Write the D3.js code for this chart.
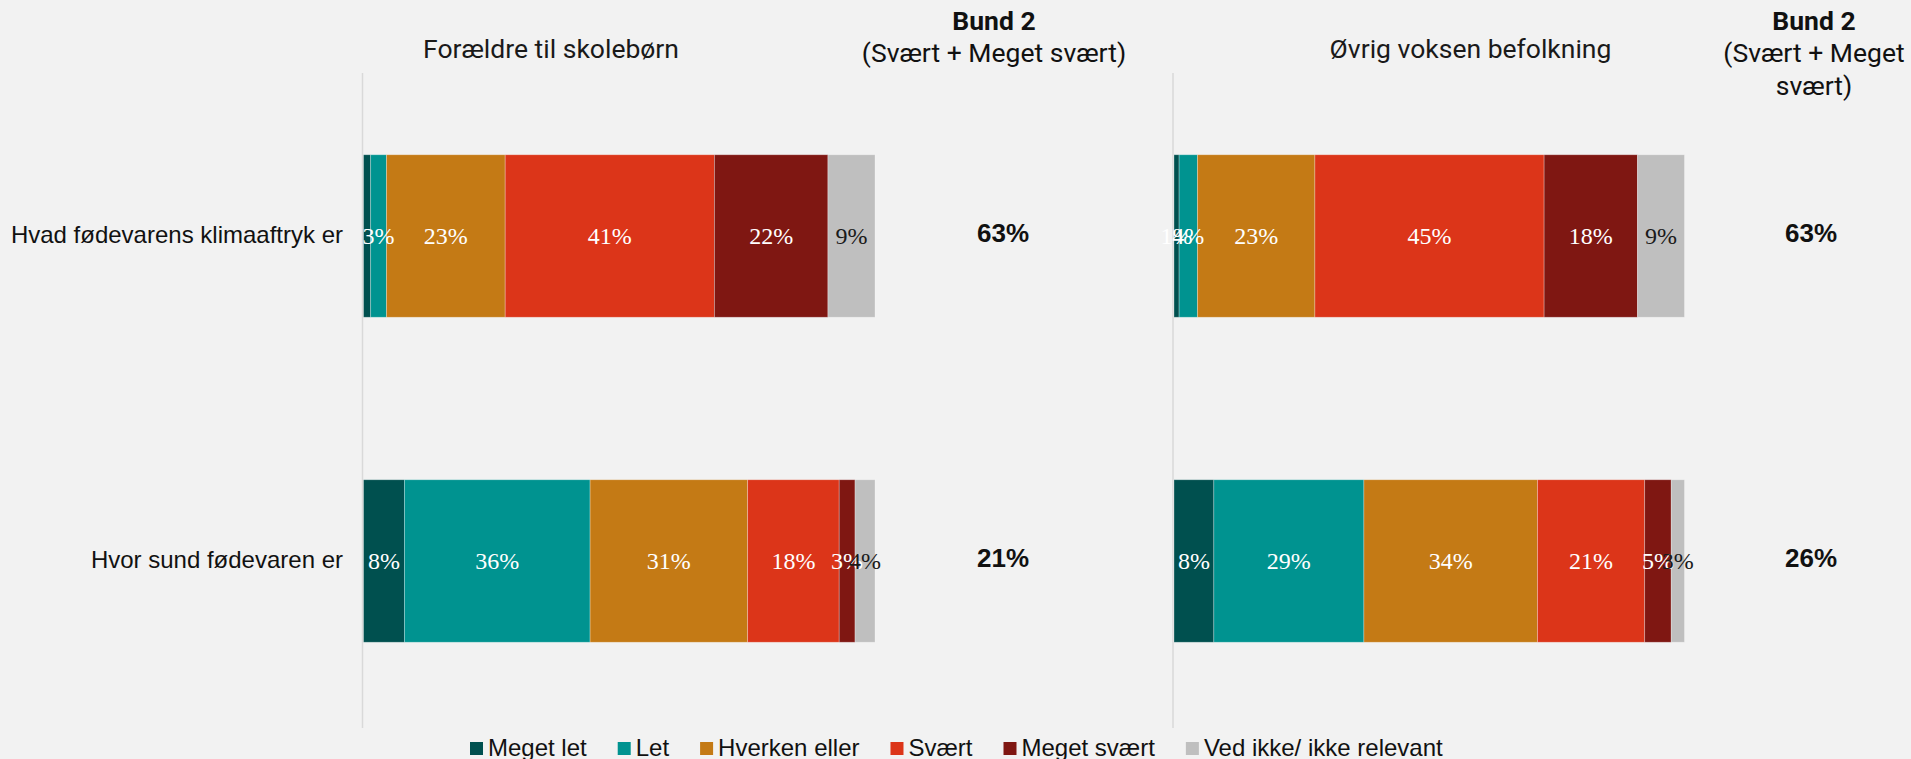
<!DOCTYPE html>
<html>
<head>
<meta charset="utf-8">
<script src="https://cdn.jsdelivr.net/npm/d3@7"></script>
<style>
  html, body { margin: 0; padding: 0; background: #F2F2F2; }
  svg { display: block; }
</style>
</head>
<body>
<script>
// ---------- DATA ----------
const categories = ["Hvad fødevarens klimaaftryk er", "Hvor sund fødevaren er"];
const seriesNames = ["Meget let", "Let", "Hverken eller", "Svært", "Meget svært", "Ved ikke/ ikke relevant"];
const seriesColors = ["#00504F", "#009390", "#C47A15", "#DC3519", "#7F1712", "#BFBFBF"];
const panelTitles = ["Forældre til skolebørn", "Øvrig voksen befolkning"];

// values per category (rows) in series order
const foraeldreKlima = [1.4, 3.1, 23.2, 40.9, 22.2, 9.2];
const foraeldreSund  = [8.0, 36.3, 30.8, 17.9, 3.1, 3.9];
const oevrigeKlima   = [1.0, 3.6, 23.0, 44.9, 18.3, 9.2];
const oevrigeSund    = [7.8, 29.4, 34.0, 21.0, 5.2, 2.6];

const bund2Foraeldre = [63, 21];
const bund2Oevrige   = [63, 26];
const bund2Header = ["Bund 2", "(Svært + Meget svært)"];
const bund2HeaderWrapped = ["Bund 2", "(Svært + Meget", "svært)"];

// label hidden in original (panel, row, series)
const hiddenLabels = [[0, 0, 0]];

// ---------- SETUP ----------
const W = 1911, H = 759;
const svg = d3.select("body").append("svg").attr("width", W).attr("height", H);
svg.append("rect").attr("width", W).attr("height", H).attr("fill", "#F2F2F2");

const y = d3.scaleBand().domain(categories).range([73.5, 723.5]).paddingInner(0.5).paddingOuter(0.25);

const panels = [
  { title: panelTitles[0], rows: [foraeldreKlima, foraeldreSund], bund: bund2Foraeldre,
    x0: 363.5, x1: 875, titleX: 551, bundX: 1003, headerX: 994, header: bund2Header },
  { title: panelTitles[1], rows: [oevrigeKlima, oevrigeSund], bund: bund2Oevrige,
    x0: 1174, x1: 1684.5, titleX: 1470.5, bundX: 1811, headerX: 1814, header: bund2HeaderWrapped }
];

const stack = d3.stack().keys(d3.range(seriesNames.length)).value((d, k) => d.vals[k]);

panels.forEach((p, pi) => {
  const x = d3.scaleLinear().domain([0, 100]).range([p.x0, p.x1]);
  const g = svg.append("g");

  // axis line
  g.append("line")
    .attr("x1", p.x0 - 1).attr("x2", p.x0 - 1).attr("y1", 73).attr("y2", 728)
    .attr("stroke", "#D9D9D9").attr("stroke-width", 1.5);

  const data = categories.map((c, i) => ({ cat: c, vals: p.rows[i] }));
  const stacked = stack(data);

  stacked.forEach((layer, si) => {
    g.append("g").selectAll("rect").data(layer).join("rect")
      .attr("x", d => x(d[0]))
      .attr("width", d => x(d[1]) - x(d[0]))
      .attr("y", d => y(d.data.cat))
      .attr("height", y.bandwidth())
      .attr("fill", seriesColors[si])
      .attr("stroke", "rgba(255,255,255,0.35)")
      .attr("stroke-width", 0.8);
  });

  stacked.forEach((layer, si) => {
    g.append("g").selectAll("text").data(layer.map((d, ri) => ({ d, ri })))
      .join("text")
      .filter(o => !hiddenLabels.some(h => h[0] === pi && h[1] === o.ri && h[2] === si))
      .attr("x", o => (x(o.d[0]) + x(o.d[1])) / 2)
      .attr("y", o => y(o.d.data.cat) + y.bandwidth() / 2)
      .attr("dy", "0.35em")
      .attr("text-anchor", "middle")
      .attr("font-family", "'Liberation Serif', 'Times New Roman', serif")
      .attr("font-size", 24)
      .attr("fill", si === seriesNames.length - 1 ? "#1a1a1a" : "#ffffff")
      .text(o => Math.round(o.d.data.vals[si]) + "%");
  });

  // panel title
  svg.append("text")
    .attr("x", p.titleX).attr("y", 58)
    .attr("text-anchor", "middle")
    .attr("font-family", "Roboto, sans-serif")
    .attr("font-size", 26.5)
    .attr("fill", "#1a1a1a")
    .text(p.title);

  // bund 2 header
  p.header.forEach((t, li) => {
    svg.append("text")
      .attr("x", p.headerX).attr("y", 30 + li * 32.3)
      .attr("text-anchor", "middle")
      .attr("font-family", "Roboto, sans-serif")
      .attr("font-size", 26.5)
      .attr("font-weight", li === 0 ? "bold" : "normal")
      .attr("fill", "#111")
      .text(t);
  });

  // bund 2 values
  svg.append("g").selectAll("text").data(p.bund).join("text")
    .attr("x", p.bundX)
    .attr("y", (d, i) => y(categories[i]) + y.bandwidth() / 2 - 3)
    .attr("dy", "0.35em")
    .attr("text-anchor", "middle")
    .attr("font-family", "'Liberation Sans', Arial, sans-serif")
    .attr("font-weight", "bold")
    .attr("font-size", 26)
    .attr("fill", "#111")
    .text(d => d + "%");
});

// category labels
svg.append("g").selectAll("text").data(categories).join("text")
  .attr("x", 343)
  .attr("y", d => y(d) + y.bandwidth() / 2 - 1)
  .attr("dy", "0.35em")
  .attr("text-anchor", "end")
  .attr("font-family", "'Liberation Sans', Arial, sans-serif")
  .attr("font-size", 24)
  .attr("fill", "#111")
  .text(d => d);

// legend
const legend = svg.append("g");
let lx = 470;
seriesNames.forEach((s, i) => {
  legend.append("rect")
    .attr("x", lx).attr("y", 742).attr("width", 13).attr("height", 13)
    .attr("fill", seriesColors[i]);
  const t = legend.append("text")
    .attr("x", lx + 18).attr("y", 756)
    .attr("font-family", "'Liberation Sans', Arial, sans-serif")
    .attr("font-size", 24)
    .attr("fill", "#111")
    .text(s);
  lx = lx + 18 + t.node().getComputedTextLength() + 31;
});
</script>
</body>
</html>
